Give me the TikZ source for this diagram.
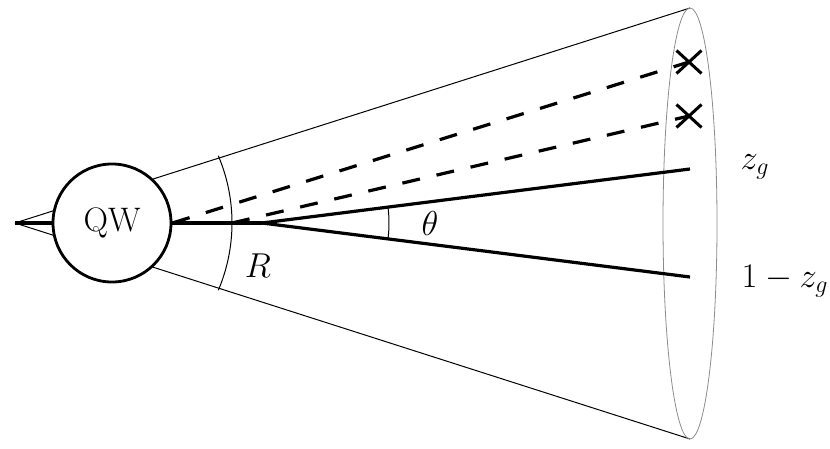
\documentclass[tikz,border=0pt]{standalone}
\usetikzlibrary{shapes.misc}
\begin{document}
\begin{tikzpicture}[x=0.5pt,y=-0.5pt,
  thinline/.style={line width=0.5pt},
  jet/.style={line width=1.6pt},
  dashjet/.style={line width=1.6pt, dash pattern=on 9pt off 8.5pt},
  xmark/.style={cross out, draw, line width=1.5pt, minimum width=11pt, minimum height=10pt, inner sep=0pt},
  lbl/.style={inner sep=0pt}]
\useasboundingbox (0,0) rectangle (830,449);
% cone
\coordinate (apex) at (15,223);
\coordinate (ctop) at (690,8);
\coordinate (cbot) at (690,439);
\draw[thinline] (apex) -- (ctop);
\draw[thinline] (apex) -- (cbot);
\draw[line width=0.4pt, black!45] (690,223.5) ellipse [x radius=27, y radius=215.5];
% main jet line
\coordinate (split) at (262,223);
\coordinate (dstart) at (232,223);
\draw[jet] (apex) -- (split);
% circle
\node[circle, draw, fill=white, line width=1.4pt, minimum size=59pt, inner sep=0pt] (qw) at (112,223) {\fontsize{17}{20}\selectfont QW};
% prongs
\coordinate (zg) at (690,169);
\coordinate (omzg) at (690,277);
\draw[jet] (split) -- (zg);
\draw[jet] (split) -- (omzg);
% crosses and dashed lines
\node[xmark] (x1) at (689,62) {};
\node[xmark] (x2) at (689,116) {};
\draw[dashjet] (qw.east) -- (x1.center);
\draw[dashjet] (dstart) -- (x2.center);
% arcs
\draw[thinline] (60,223) ++(-23:172) arc[start angle=-23, end angle=23, radius=172];
\draw[thinline] (262,223) ++(-7.6:127) arc[start angle=-7.6, end angle=7.6, radius=127];
% labels
\node[lbl] (R) at (258,266) {\fontsize{17}{20}\selectfont $R$};
\node[lbl] (th) at (430,223) {\fontsize{16}{18}\selectfont $\theta$};
\node[lbl] (lzg) at (755,167) {\fontsize{18}{20}\selectfont $z_g$};
\node[lbl] (lomzg) at (785,281) {\fontsize{18}{20}\selectfont $1-z_g$};
\end{tikzpicture}
\end{document}
